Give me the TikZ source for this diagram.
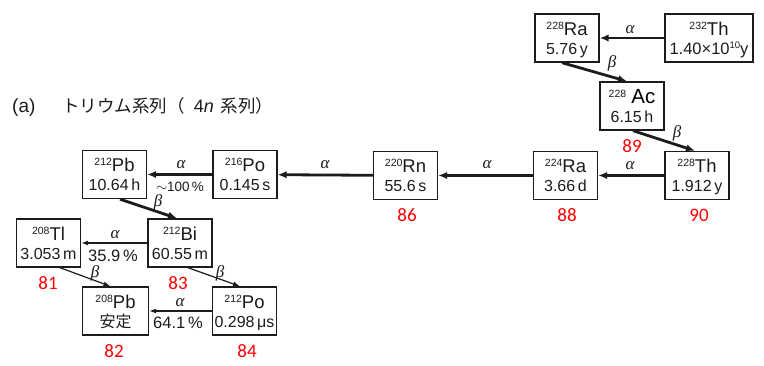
\documentclass[tikz,border=0pt]{standalone}
\usepackage{fontspec}
\setmainfont{Liberation Sans}
\newfontfamily\cjk{Noto Sans CJK JP}
\newfontfamily\redfont{Carlito}
\newfontfamily\grk{Liberation Serif}
\usetikzlibrary{arrows.meta,calc}
\definecolor{ink}{HTML}{1C1C1C}
\definecolor{redlab}{HTML}{FF0000}
\newcommand\iso[2]{\raisebox{6pt}{\fontsize{10.5}{10.5}\selectfont #1}#2}
\newcommand\gl[1]{{\grk\itshape #1}}
\newcommand\nbox[5][64]{%
  \node[nucbox, minimum width=#1pt] (#2) at (#3) {};
  \node[topl] (#2t) at ([yshift=2.5pt]#2.center) {#4};
  \node[botl] (#2b) at ([yshift=-16.5pt]#2.center) {#5};}
\begin{document}
\begin{tikzpicture}[x=1pt,y=-1pt,
  nucbox/.style={draw=ink, line width=1.4pt, inner sep=0pt, minimum height=48pt},
  topl/.style={anchor=base, inner sep=0pt, text=ink, font=\fontsize{18.5}{18.5}\selectfont},
  botl/.style={anchor=base, inner sep=0pt, text=ink, font=\fontsize{16}{16}\selectfont},
  thickarr/.style={draw=ink, line width=2.8pt, -{Latex[length=9pt,width=7.5pt]}},
  thinarr/.style={draw=ink, line width=1.2pt, -{Latex[length=7pt,width=5pt]}},
  dec/.style={text=ink, font=\fontsize{17}{17}\selectfont, inner sep=0pt, text height=8pt, text depth=1pt},
  decb/.style={text=ink, font=\fontsize{17}{17}\selectfont, inner sep=0pt},
  pct/.style={text=ink, font=\fontsize{16.5}{16.5}\selectfont, inner sep=0pt},
  zlab/.style={text=redlab, font=\redfont\fontsize{19}{19}\selectfont, inner sep=0pt, text height=12pt, text depth=0pt}]
\useasboundingbox (0,0) rectangle (764,366);
\fill[white] (0,0) rectangle (764,366);

% title
\node[anchor=west, inner sep=0pt, text=ink, font=\fontsize{17.5}{17.5}\selectfont] (title) at (12,107)
  {{\fontsize{19}{19}\selectfont (a)}\hspace{27pt}{\cjk トリウム系列（}\hspace{9pt}{\fontsize{18}{18}\selectfont 4\textit{n}}\hspace{7pt}{\cjk 系列）}};

% boxes
\nbox{ra228}{567,38}{\iso{228}{Ra}}{5.76\,y}
\nbox[88]{th232}{709,38}{\iso{232}{Th}}{\fontsize{16.5}{16.5}\selectfont 1.40{\texttimes}10\raisebox{5.5pt}{\fontsize{9.5}{9.5}\selectfont 10}y}
\nbox{ac228}{632,106}{\iso{228}{\ \textcolor{black}{\fontsize{20.5}{20.5}\selectfont Ac}}}{6.15\,h}
\nbox{th228}{697,175.5}{\iso{228}{Th}}{1.912\,y}
\nbox{ra224}{565.5,175.5}{\iso{224}{Ra}}{3.66\,d}
\nbox{rn220}{405.5,175.5}{\iso{220}{Rn}}{55.6\,s}
\nbox{po216}{245,174.5}{\iso{216}{Po}}{0.145\,s}
\nbox{pb212}{114.5,174.5}{\iso{212}{Pb}}{10.64\,h}
\nbox{bi212}{180,243}{\iso{212}{Bi}}{60.55\,m}
\nbox{tl208}{48.5,243}{\iso{208}{Tl}}{3.053\,m}
\nbox[66]{pb208}{115.5,311}{\iso{208}{Pb}}{\cjk 安定}
\nbox{po212}{244.5,311}{\iso{212}{Po}}{0.298\,μs}

% alpha arrows (main chain)
\draw[thickarr] (th232) -- (ra228);
\draw[thickarr] (th228) -- (ra224);
\draw[thickarr] (ra224) -- (rn220);
\draw[thickarr] (rn220) -- (po216);
\draw[thickarr] (po216) -- (pb212);
% beta arrows (main chain)
\draw[thickarr] ([xshift=-5pt]ra228.south) -- ([xshift=-5pt]ac228.north);
\draw[thickarr] ([xshift=1pt]ac228.south) -- ([xshift=-2pt]th228.north);
\draw[thickarr] ([xshift=5.5pt]pb212.south) -- ([xshift=-3pt]bi212.north);
% branches
\draw[thinarr] (bi212) -- (tl208);
\draw[thinarr] (po212) -- (pb208);
\draw[thinarr] ([xshift=11.5pt]tl208.south) -- ([xshift=-5pt]pb208.north);
\draw[thinarr] ([xshift=8pt]bi212.south) -- ([xshift=-4.5pt]po212.north);

% decay labels
\node[dec] (a1) at (630,30) {\gl{α}};
\node[decb] (b1) at (612,63) {\gl{β}};
\node[decb] (b2) at (677,133) {\gl{β}};
\node[dec] (a2) at (630,166) {\gl{α}};
\node[dec] (a3) at (487,165) {\gl{α}};
\node[dec] (a4) at (325,165) {\gl{α}};
\node[dec] (a5) at (181,165) {\gl{α}};
\node[pct, font=\fontsize{13.5}{13.5}\selectfont] (p1) at (180,187) {$\sim$100\,\%};
\node[decb] (b3) at (158,202) {\gl{β}};
\node[dec] (a6) at (115,235) {\gl{α}};
\node[pct] (p2) at (113,256) {35.9\,\%};
\node[decb] (b4) at (95,273) {\gl{β}};
\node[decb] (b5) at (220,273) {\gl{β}};
\node[dec] (a7) at (180,303) {\gl{α}};
\node[pct] (p3) at (178,323) {64.1\,\%};

% atomic numbers
\node[zlab] (z89) at (632,147) {89};
\node[zlab] (z86) at (407,216) {86};
\node[zlab] (z88) at (567,216) {88};
\node[zlab] (z90) at (699,216) {90};
\node[zlab] (z81) at (48,284) {81};
\node[zlab] (z83) at (178,284) {83};
\node[zlab] (z82) at (114,352) {82};
\node[zlab] (z84) at (247,352) {84};
\end{tikzpicture}
\end{document}
